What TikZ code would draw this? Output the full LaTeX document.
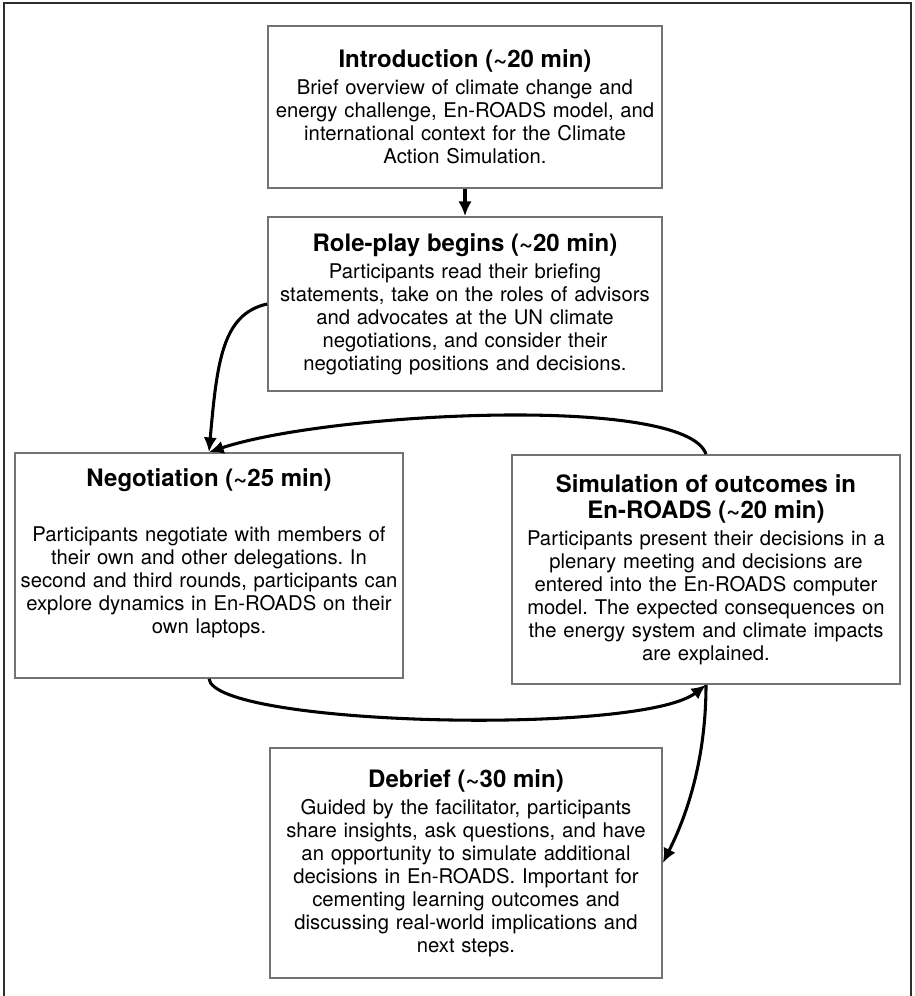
\documentclass[tikz,border=0pt]{standalone}
\usepackage{fontspec}
\setmainfont{TeX Gyre Heros}
\usepackage{tikz}
\usetikzlibrary{arrows.meta}
\definecolor{boxgray}{RGB}{115,115,115}
\definecolor{framegray}{RGB}{45,45,45}
\newcommand{\stagetitle}[1]{{\fontsize{18}{20}\selectfont\bfseries #1}}
\frenchspacing

\tikzset{
	stage/.style={draw=boxgray, line width=1.3pt, align=center, inner sep=0pt,
		text width=284pt, font=\fontsize{15.2}{17.25}\selectfont},
	flow/.style={line width=2.3pt, -{Latex[length=11pt,width=10pt]}}
}

\begin{document}
\begin{tikzpicture}[x=0.75pt, y=-0.75pt]
	\useasboundingbox (0,0) rectangle (914,996);
	\draw [framegray, line width=1pt] (4,996) -- (4,3) -- (911,3) -- (911,996);

	\node at (465,107) [stage, minimum width=295.5pt, minimum height=121.5pt] (intro)
		{\stagetitle{Introduction (\textasciitilde20 min)}\\[3pt]
		Brief overview of climate change and\\
		energy challenge, En-ROADS model, and\\
		international context for the Climate\\
		Action Simulation.};
	\node at (465,304) [stage, minimum width=295.5pt, minimum height=130.5pt] (role)
		{\stagetitle{Role-play begins (\textasciitilde20 min)}\\[3pt]
		Participants read their briefing\\
		statements, take on the roles of advisors\\
		and advocates at the UN climate\\
		negotiations, and consider their\\
		negotiating positions and decisions.};
	\node at (209,565.5) [stage, minimum width=291pt, minimum height=168.75pt] (neg)
		{\stagetitle{Negotiation (\textasciitilde25 min)}\\[24pt]
		Participants negotiate with members of\\
		their own and other delegations. In\\
		second and third rounds, participants can\\
		explore dynamics in En-ROADS on their\\
		own laptops.\\[4.75pt]\mbox{}};
	\node at (706,569.5) [stage, minimum width=291pt, minimum height=171.75pt] (sim)
		{\stagetitle{Simulation of outcomes in}\\[2.25pt]
		\stagetitle{En-ROADS (\textasciitilde20 min)}\\[3pt]
		Participants present their decisions in a\\
		plenary meeting and decisions are\\
		entered into the En-ROADS computer\\
		model. The expected consequences on\\
		the energy system and climate impacts\\
		are explained.};
	\node at (466,863) [stage, minimum width=294pt, minimum height=172.5pt] (debrief)
		{\stagetitle{Debrief (\textasciitilde30 min)}\\[3pt]
		Guided by the facilitator, participants\\
		share insights, ask questions, and have\\
		an opportunity to simulate additional\\
		decisions in En-ROADS. Important for\\
		cementing learning outcomes and\\
		discussing real-world implications and\\
		next steps.};

	\draw [flow] (intro.south) -- (role.north);
	\draw [flow] (role.west) .. controls +(-45,10) and +(8,-90) .. (neg.north);
	\draw [flow] (sim.north) .. controls +(-20,-60) and +(120,-40) .. (neg.north);
	\draw [flow] (neg.south) .. controls +(6,47) and +(-66,51) .. (sim.south);
	\draw [flow] (sim.south) .. controls +(0,90) and +(15,-30) .. (debrief.east);
\end{tikzpicture}
\end{document}
